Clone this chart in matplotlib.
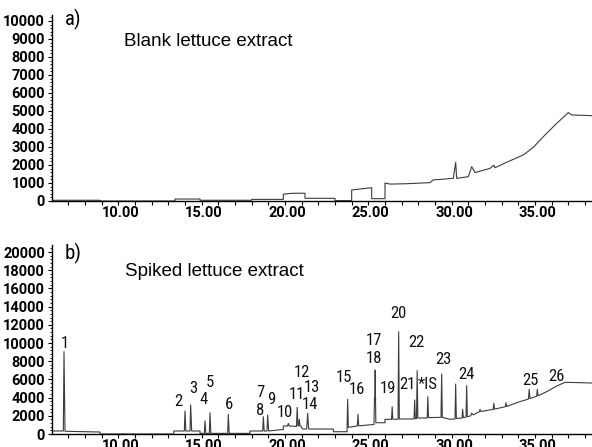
import matplotlib.pyplot as plt
from matplotlib import font_manager
from matplotlib.ticker import MultipleLocator, FuncFormatter

# --- blank lettuce extract trace (minutes, abundance) ---
blank_time = [7.02, 9.9, 9.9, 14.4, 14.4, 15.9, 15.9, 19.0, 19.0, 20.9, 20.9, 21.2,
              21.5, 22.2, 22.2, 24.0, 24.0, 25.0, 25.0, 26.2, 26.2, 27.0, 27.0, 27.1,
              27.3, 28.3, 29.7, 29.9, 31.1, 31.24, 31.3, 32.0, 32.2, 32.4, 33.3, 33.53,
              33.6, 34.3, 35.3, 35.9, 36.6, 37.3, 38.0, 38.2, 39.42]
blank_abund = [40, 40, 0, 0, 110, 110, 40, 40, 90, 90, 370, 410,
               430, 430, 150, 150, 20, 20, 610, 740, 130, 130, 1000, 980,
               940, 960, 1020, 1170, 1260, 2150, 1260, 1350, 1910, 1580, 1810, 1990,
               1850, 2150, 2560, 2980, 3670, 4310, 4910, 4780, 4740]

# --- spiked lettuce extract trace ---
spiked_time = [7.02, 7.70, 7.74, 7.80, 9.9, 9.9, 14.33, 14.33,
               14.96, 15.0, 15.05, 15.30, 15.34, 15.40, 15.9, 15.9,
               16.16, 16.2, 16.25, 16.46, 16.5, 16.55, 17.56, 17.6, 17.65, 18.9, 18.9,
               19.66, 19.7, 19.75, 19.92, 19.96, 20.02, 20.9, 20.9,
               21.15, 21.2, 21.25, 21.69, 21.73, 21.78, 21.82, 21.86, 21.9, 21.95, 22.05,
               22.30, 22.36, 22.42, 23.9, 23.9,
               24.72, 24.76, 24.80, 25.34, 25.38, 25.42, 26.0, 26.34, 26.37, 26.39, 26.41, 26.45,
               27.0, 27.0, 27.39, 27.43, 27.47, 27.78, 27.82, 27.86,
               28.74, 28.78, 28.82, 28.89, 28.93, 28.97, 29.53, 29.57, 29.61,
               30.36, 30.40, 30.44, 30.9, 31.20, 31.24, 31.28, 31.62, 31.66, 31.70,
               31.86, 31.90, 31.94, 32.15, 32.2, 32.3, 32.66, 32.70, 32.74,
               33.49, 33.53, 33.57, 34.22, 34.26, 34.30, 34.9,
               35.61, 35.65, 35.70, 36.10, 36.14, 36.18, 36.7, 37.3, 37.8, 38.5, 39.42]
spiked_abund = [330, 330, 9050, 300, 220, 0, 0, 330,
                330, 2530, 330, 330, 3190, 330, 330, 70,
                70, 1430, 70, 70, 2340, 70, 70, 2160, 70, 70, 330,
                330, 1900, 330, 330, 2090, 330, 500, 880,
                880, 1170, 880, 840, 2930, 900, 900, 1610, 880, 880, 550,
                550, 2270, 550, 550, 250,
                250, 3810, 730, 880, 2160, 900, 990, 1050, 4000, 3900, 7030, 1240,
                1240, 1610, 1610, 3000, 1620, 1620, 11240, 1650,
                1650, 3740, 1680, 1690, 6960, 1760, 1760, 4100, 1800,
                1830, 6590, 1830, 1610, 1650, 5490, 1700, 1750, 2710, 1800,
                1850, 5310, 1900, 2000, 2300, 2100, 2450, 2710, 2470,
                2710, 3370, 2730, 3000, 3440, 3020, 3440,
                3850, 4910, 3900, 4150, 4910, 4200, 4650, 5270, 5680, 5650, 5600]

# peak numbers and where they are written
peak_labels = ["1", "2", "3", "4", "5", "6", "7", "8", "9", "10", "11", "12", "13",
               "14", "15", "16", "17", "18", "19", "20", "21", "22", "*IS", "23",
               "24", "25", "26"]
label_time = [7.80, 14.60, 15.50, 16.10, 16.50, 17.65, 19.50, 19.50, 20.20, 21.00,
              21.70, 22.03, 22.60, 22.50, 24.54, 25.33, 26.33, 26.33, 27.16, 27.79,
              28.33, 28.86, 29.59, 30.49, 31.90, 35.73, 37.30]
label_abund = [9970, 3550, 5020, 3740, 5680, 3190, 4540, 2560, 3740, 2340,
               4290, 6780, 5090, 3260, 6190, 4910, 10250, 8320, 5020, 13190,
               5490, 10030, 5490, 8210, 6590, 5930, 6370]

# condensed face for the peak numbers (Univers Condensed look), with fallbacks
have = {f.name for f in font_manager.fontManager.ttflist}
narrow_first = next((n for n in ['Roboto Condensed', 'Archivo Narrow',
                                 'Asap Condensed', 'Liberation Sans Narrow']
                     if n in have), 'DejaVu Sans')
narrow = [narrow_first, 'DejaVu Sans']
plain = ['Liberation Sans', 'DejaVu Sans']
line_col = '#3c3c3c'

# tick numbers: Roboto, bold (set globally so every tick label picks it up)
plt.rcParams['font.family'] = ['Roboto', 'DejaVu Sans']
plt.rcParams['font.weight'] = 'bold'
plt.rcParams['xtick.labelsize'] = 10.5
plt.rcParams['ytick.labelsize'] = 10.5

fig = plt.figure(figsize=(5.92, 4.47), dpi=100)
fig.patch.set_facecolor('white')

ax_a = fig.add_axes([52 / 592, 1 - 201 / 447, 540 / 592, 186 / 447])
ax_b = fig.add_axes([52 / 592, 1 - 434 / 447, 540 / 592, 189 / 447])


def style_axis(ax, ytop, ymajor, yminor):
    ax.set_xlim(7.02, 39.42)
    ax.set_ylim(0, ytop)
    for s in ['top', 'right']:
        ax.spines[s].set_visible(False)
    for s in ['left', 'bottom']:
        ax.spines[s].set_linewidth(1.0)
        ax.spines[s].set_color('black')
    ax.xaxis.set_major_locator(MultipleLocator(5))
    ax.xaxis.set_minor_locator(MultipleLocator(1))
    ax.xaxis.set_major_formatter(FuncFormatter(lambda v, p: f"{v:.2f}"))
    ax.yaxis.set_major_locator(MultipleLocator(ymajor))
    ax.yaxis.set_minor_locator(MultipleLocator(yminor))
    ax.yaxis.set_major_formatter(FuncFormatter(lambda v, p: f"{int(v)}"))
    ax.tick_params(axis='x', which='both', direction='out', length=3.0, width=0.8, pad=0.3)
    ax.tick_params(axis='y', which='major', direction='out', length=3.0, width=0.8, pad=2.0)
    ax.tick_params(axis='y', which='minor', direction='out', length=1.6, width=0.6)
    for lab in ax.get_xticklabels():
        lab.set_horizontalalignment('left')


ax_a.plot(blank_time, blank_abund, color=line_col, lw=0.8)
style_axis(ax_a, 10333, 1000, 200)

ax_b.plot(spiked_time, spiked_abund, color=line_col, lw=0.8)
style_axis(ax_b, 20770, 2000, 400)

for lab, t, y in zip(peak_labels, label_time, label_abund):
    ax_b.text(t, y, lab, ha='center', va='center', fontsize=12,
              family=narrow, fontweight='normal', color='#111111')

# panel letters and titles
fig.text(65 / 592, 1 - 19 / 447, "a)", fontsize=15, family=narrow,
         fontweight='normal', ha='left', va='center')
fig.text(124 / 592, 1 - 42 / 447, "Blank lettuce extract", fontsize=13.5,
         family=plain, fontweight='normal', ha='left', va='center')
fig.text(65 / 592, 1 - 253 / 447, "b)", fontsize=15, family=narrow,
         fontweight='normal', ha='left', va='center')
fig.text(125 / 592, 1 - 272 / 447, "Spiked lettuce extract", fontsize=13.5,
         family=plain, fontweight='normal', ha='left', va='center')

plt.savefig("out.png", dpi=100, facecolor='white')
